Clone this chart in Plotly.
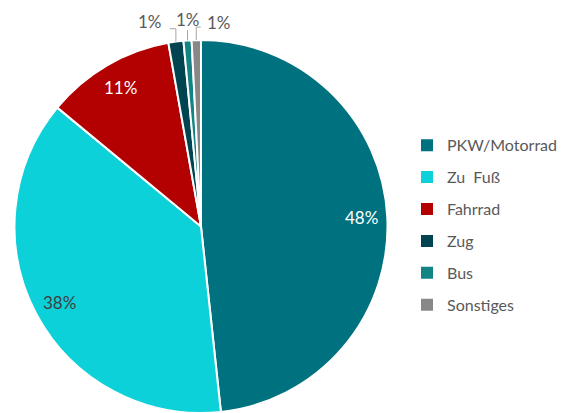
import math
import plotly.graph_objects as go

categories = ["PKW/Motorrad", "Zu  Fuß", "Fahrrad", "Zug", "Bus", "Sonstiges"]
values = [48.3, 37.7, 11.2, 1.3, 0.7, 0.8]
colors = ["#00717F", "#0DD1D9", "#B30000", "#004451", "#138486", "#888888"]
label_colors = ["#FFFFFF", "#404040", "#FFFFFF", "#595959", "#595959", "#595959"]
# label placement style: "in" (inside) or outside callout direction
label_modes = ["in", "in", "in", "left", "up", "right"]

# the page body adds an 8px margin, so the figure is 8px smaller than the window
W, H = 563, 405
DOM_X = [0.0089, 0.6767]
DOM_Y = [0.0, 0.921]
FONT = "Lato"

fig = go.Figure()
fig.add_trace(go.Pie(
    labels=categories,
    values=values,
    sort=False,
    direction="clockwise",
    rotation=0,
    marker=dict(colors=colors, line=dict(color="white", width=2)),
    textinfo="none",
    domain=dict(x=DOM_X, y=DOM_Y),
    hoverinfo="label+percent",
    showlegend=False,
))

# legend entries (separate groups so spacing can be controlled)
for cat, col in zip(categories, colors):
    fig.add_trace(go.Scatter(
        x=[None], y=[None], mode="markers", name=cat,
        marker=dict(symbol="square", size=9, color=col),
        legendgroup=cat, showlegend=True, hoverinfo="skip",
    ))

# pie geometry in pixels (same rule Plotly uses: radius = half the smaller domain side)
pw = (DOM_X[1] - DOM_X[0]) * W
ph = (DOM_Y[1] - DOM_Y[0]) * H
R = min(pw, ph) / 2
CX = (DOM_X[0] + DOM_X[1]) / 2 * W
CY = H - (DOM_Y[0] + DOM_Y[1]) / 2 * H


def px_to_paper(x, y):
    return x / W, 1 - y / H


def polar(frac_angle, rr):
    th = 2 * math.pi * frac_angle
    return CX + rr * math.sin(th), CY - rr * math.cos(th)


total = sum(values)
cum = 0.0
annotations = []
shapes = []
for val, mode, tcol in zip(values, label_modes, label_colors):
    mid = (cum + val / 2) / total
    cum += val
    txt = f"{val / total:.0%}"
    if mode == "in":
        x, y = polar(mid, R * 0.86)
        xp, yp = px_to_paper(x, y)
        annotations.append(dict(x=xp, y=yp, xref="paper", yref="paper", text=txt,
                                showarrow=False, font=dict(size=17, color=tcol, family=FONT),
                                xanchor="center", yanchor="middle"))
        continue
    ex, ey = polar(mid, R)
    if mode == "up":
        pts = [(ex, ey), (ex, 22)]
        tx, ty, xa, ya = ex, 0, "center", "top"
    elif mode == "left":
        pts = [(ex, ey), (ex, ey - 13), (ex - 6, ey - 13)]
        tx, ty, xa, ya = ex - 13, ey - 20, "right", "middle"
    else:
        pts = [(ex, ey), (ex, ey - 13), (ex + 4.5, ey - 13)]
        tx, ty, xa, ya = ex + 9.5, ey - 18, "left", "middle"
    path = "M " + " L ".join(f"{px_to_paper(a, b)[0]},{px_to_paper(a, b)[1]}" for a, b in pts)
    shapes.append(dict(type="path", path=path, xref="paper", yref="paper",
                       line=dict(color="#A6A6A6", width=1)))
    xp, yp = px_to_paper(tx, ty)
    annotations.append(dict(x=xp, y=yp, xref="paper", yref="paper", text=txt,
                            showarrow=False, font=dict(size=17, color=tcol, family=FONT),
                            xanchor=xa, yanchor=ya, borderpad=0))

fig.update_layout(
    width=W, height=H,
    margin=dict(l=0, r=0, t=0, b=0),
    paper_bgcolor="white",
    plot_bgcolor="white",
    xaxis=dict(visible=False),
    yaxis=dict(visible=False),
    font=dict(family=FONT, color="#595959", size=16),
    legend=dict(x=0.7087, y=0.703, xanchor="left", yanchor="top",
                tracegroupgap=8.1, itemsizing="constant",
                font=dict(size=16, color="#595959", family=FONT)),
    showlegend=True,
    annotations=annotations,
    shapes=shapes,
)

fig.write_html("out.html")
